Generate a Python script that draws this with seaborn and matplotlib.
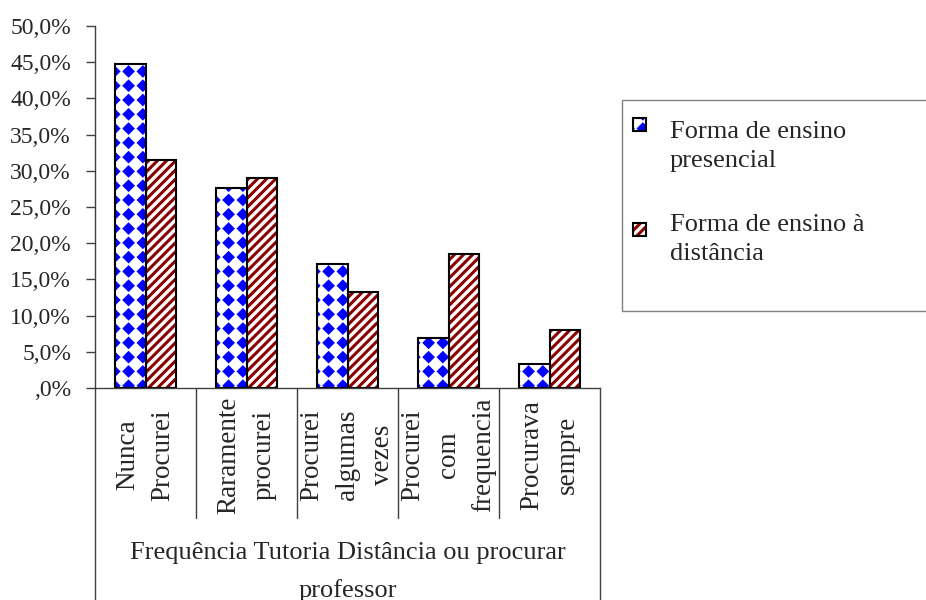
import numpy as np
import pandas as pd
import matplotlib
matplotlib.use("Agg")
import matplotlib.pyplot as plt
import matplotlib.hatch as mhatch
from matplotlib.path import Path
from matplotlib.patches import Rectangle
import seaborn as sns

# dados
categorias = ["Nunca\nProcurei", "Raramente\nprocurei", "Procurei\nalgumas\nvezes",
              "Procurei\ncom\nfrequencia", "Procurava\nsempre"]
presencial = [0.448, 0.276, 0.171, 0.069, 0.033]
distancia = [0.315, 0.290, 0.133, 0.185, 0.080]
series = ["Forma de ensino\npresencial", "Forma de ensino à\ndistância"]
yticks = [0.0, 0.05, 0.10, 0.15, 0.20, 0.25, 0.30, 0.35, 0.40, 0.45, 0.50]
ytick_labels = [",0%", "5,0%", "10,0%", "15,0%", "20,0%", "25,0%", "30,0%",
                "35,0%", "40,0%", "45,0%", "50,0%"]
titulo = "Frequência Tutoria Distância ou procurar\nprofessor"


# padroes de preenchimento parecidos com os do Excel
class Losangos(mhatch.HatchPatternBase):
    # losangos cheios numa grade quadrada (usa o caractere '*')
    n = 7
    h = 0.042

    def __init__(self, hatch, density):
        self.centros = []
        if '*' in hatch:
            g = np.arange(self.n + 1) / self.n
            for x in g:
                for y in g:
                    self.centros.append((x, y))
        self.num_vertices = len(self.centros) * 5

    def set_vertices_and_codes(self, vertices, codes):
        h = self.h
        forma = np.array([[h, 0], [0, h], [-h, 0], [0, -h], [h, 0]])
        for i, c in enumerate(self.centros):
            vertices[i * 5:(i + 1) * 5] = forma + c
            codes[i * 5:(i + 1) * 5] = [Path.MOVETO, Path.LINETO, Path.LINETO,
                                        Path.LINETO, Path.CLOSEPOLY]


class Listras(mhatch.NorthEastHatch):
    def __init__(self, hatch, density):
        self.num_lines = 22 if '/' in hatch else 0
        self.num_vertices = (self.num_lines + 1) * 2 if self.num_lines else 0


mhatch._hatch_types = [Listras if t is mhatch.NorthEastHatch else
                       Losangos if t is mhatch.Stars else t
                       for t in mhatch._hatch_types]

sns.set_theme(style="white")
plt.rcParams['font.family'] = ['Liberation Serif', 'DejaVu Serif']
plt.rcParams['hatch.linewidth'] = 2.2

padroes = [("*", "#0000ff"), ("/", "#8b0000")]
linha = "#404040"

df = pd.DataFrame({
    "categoria": categorias * 2,
    "valor": presencial + distancia,
    "forma": [series[0]] * len(categorias) + [series[1]] * len(categorias),
})

fig = plt.figure(figsize=(9.26, 6), dpi=100)
ax = fig.add_axes([95 / 926, 212 / 600, 505 / 926, 362 / 600])
sns.barplot(data=df, x="categoria", y="valor", hue="forma", palette=["white", "white"],
            width=0.6, saturation=1, legend=False, ax=ax)

for cont, (hatch, cor) in zip(ax.containers, padroes):
    for barra in cont:
        barra.set_hatch(hatch)
        barra.set_edgecolor(cor)
        barra.set_linewidth(0)
        ax.add_patch(Rectangle(barra.get_xy(), barra.get_width(), barra.get_height(),
                               fill=False, edgecolor="black", linewidth=1.5,
                               zorder=barra.get_zorder() + 0.1))

ax.set_xlim(-0.5, len(categorias) - 0.5)
ax.set_ylim(0, 0.5)
ax.set_yticks(yticks, ytick_labels)
ax.set_xticks([])
ax.set_xlabel("")
ax.set_ylabel("")
for s in ["top", "right"]:
    ax.spines[s].set_visible(False)
for s in ["left", "bottom"]:
    ax.spines[s].set_color(linha)
    ax.spines[s].set_linewidth(1)
ax.tick_params(axis="y", direction="out", length=6.5, width=1, color=linha,
               pad=10.8, labelsize=17, left=True)

# tabela de categorias abaixo do eixo
trans = ax.get_xaxis_transform()
bordas = np.arange(len(categorias) + 1) - 0.5
for i, xb in enumerate(bordas):
    fundo = -0.62 if i in (0, len(bordas) - 1) else -0.359
    ax.plot([xb, xb], [0, fundo], transform=trans, color=linha, lw=1, clip_on=False)
for i, cat in enumerate(categorias):
    ax.text(i, -0.185, cat, transform=trans, rotation=90, ha="center", va="center",
            multialignment="center", fontsize=19.5, linespacing=1.55)
ax.text(0.5, -0.508, titulo, transform=ax.transAxes, ha="center", va="center",
        fontsize=19, linespacing=1.85)

# legenda
fig.add_artist(Rectangle((622 / 926, 289 / 600), 0.4, 211 / 600, transform=fig.transFigure,
                         fill=False, edgecolor="#808080", lw=1))
marcas = [118, 223]
textos = [121, 214]
for (hatch, cor), nome, y, yt in zip(padroes, series, marcas, textos):
    fig.add_artist(Rectangle((633 / 926, (600 - y - 13) / 600), 13 / 926, 13 / 600,
                             transform=fig.transFigure, facecolor="white", edgecolor=cor,
                             hatch=hatch, lw=0))
    fig.add_artist(Rectangle((633 / 926, (600 - y - 13) / 600), 13 / 926, 13 / 600,
                             transform=fig.transFigure, fill=False, edgecolor="black", lw=1.5))
    fig.text(670 / 926, (600 - yt) / 600, nome, ha="left", va="top", fontsize=19,
             linespacing=1.4)

fig.savefig("out.png", dpi=100)
